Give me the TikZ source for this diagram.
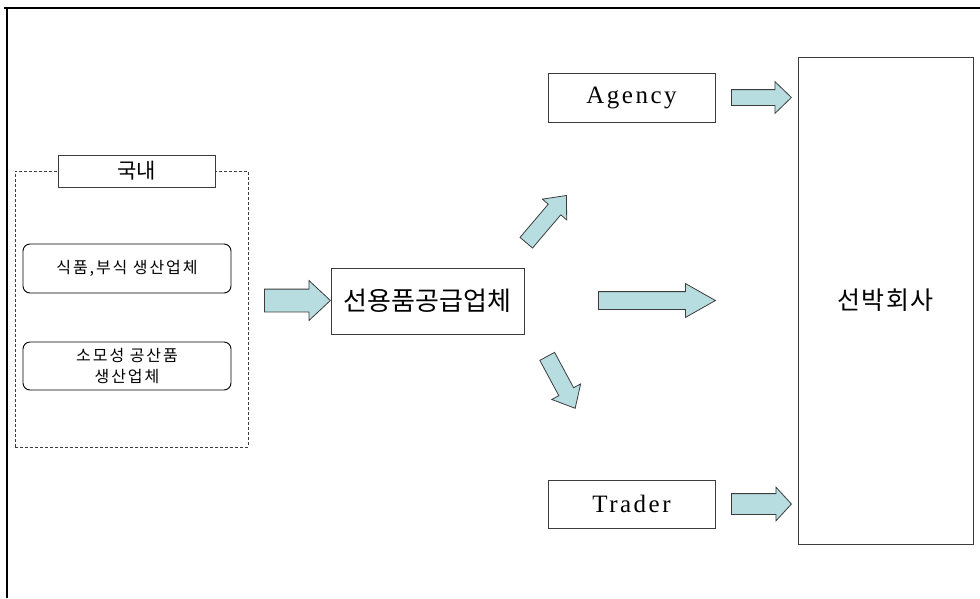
\documentclass[tikz,border=0pt]{standalone}
\usepackage{fontspec}
\setmainfont{Liberation Serif}
\newfontfamily\kr{Noto Sans CJK KR}
\newfontfamily\krw[LetterSpace=12]{Noto Sans CJK KR}
\newfontfamily\krm[LetterSpace=6]{Noto Sans CJK KR}
\newfontfamily\latw[LetterSpace=10]{Liberation Serif}
\usetikzlibrary{shapes.arrows}
\definecolor{arrowfill}{RGB}{183,221,224}
\definecolor{edge}{RGB}{60,60,60}
\tikzset{
  x=1pt, y=-1pt,
  plainbox/.style={draw=edge, line width=0.8pt, inner sep=0pt, fill=white},
  roundbox/.style={draw=black, line width=0.9pt, rounded corners=7pt, inner sep=0pt, align=center, font=\krw\fontsize{16}{21}\selectfont},
  barrow/.style={single arrow, draw=edge, fill=arrowfill, line width=0.8pt,
    inner xsep=0pt, single arrow head indent=0pt, anchor=tail},
}
\begin{document}
\begin{tikzpicture}
\useasboundingbox (0,0) rectangle (980,598);
% outer frame (top and left)
\coordinate (ftl) at (7,8);
\coordinate (ftr) at (980,8);
\coordinate (fbl) at (7,598);
\draw[line width=1.5pt, black] (4,8) -- (ftr);
\draw[line width=1.5pt, black] (ftl) -- (fbl);

% dashed domestic group
\node[draw=edge, dashed, dash pattern=on 3pt off 2pt, line width=0.7pt, minimum width=233pt, minimum height=276pt, inner sep=0pt] (dom) at (131.5,309) {};
\node[plainbox, minimum width=157pt, minimum height=32pt, font=\kr\fontsize{21}{23}\selectfont] (domlbl) at (136.5,171) {국내};
\node[roundbox, minimum width=208pt, minimum height=49pt] (food) at (127,268.5) {식품,부식 생산업체};
\node[roundbox, minimum width=208pt, minimum height=48pt] (cons) at (127,366) {소모성 공산품\\생산업체};

% supplier
\node[plainbox, minimum width=193pt, minimum height=66pt, font=\kr\fontsize{26}{28}\selectfont] (sup) at (427.5,301) {선용품공급업체};

% agency / trader
\node[plainbox, minimum width=167pt, minimum height=49pt, font=\latw\fontsize{25}{27}\selectfont] (agency) at (631.5,97.5) {Agency};
\node[plainbox, minimum width=167pt, minimum height=48pt, font=\latw\fontsize{25}{27}\selectfont] (trader) at (631.5,504) {Trader};

% shipping company
\node[plainbox, minimum width=175pt, minimum height=487pt, font=\krm\fontsize{25}{27}\selectfont] (ship) at (885.5,300.5) {선박회사};

% block arrows
\node[barrow, minimum height=66pt, inner ysep=11pt, single arrow head extend=8.5pt, single arrow tip angle=86] (a1) at (264,300.5) {};
\node[barrow, minimum height=117pt, inner ysep=8.5pt, single arrow head extend=8pt, single arrow tip angle=59] (a2) at (598,300.5) {};
\node[barrow, minimum height=60pt, inner ysep=7.5pt, single arrow head extend=8pt, single arrow tip angle=88] (a3) at (731,97.5) {};
\node[barrow, minimum height=60pt, inner ysep=10pt, single arrow head extend=6.5pt, single arrow tip angle=95] (a4) at (731,504) {};
\node[barrow, minimum height=62pt, inner ysep=7.8pt, single arrow head extend=7.8pt, single arrow tip angle=82, rotate=49.6] (a5) at (526,243) {};
\node[barrow, minimum height=59pt, inner ysep=8pt, single arrow head extend=8pt, single arrow tip angle=82, rotate=-61.7] (a6) at (547,356) {};
\end{tikzpicture}
\end{document}
